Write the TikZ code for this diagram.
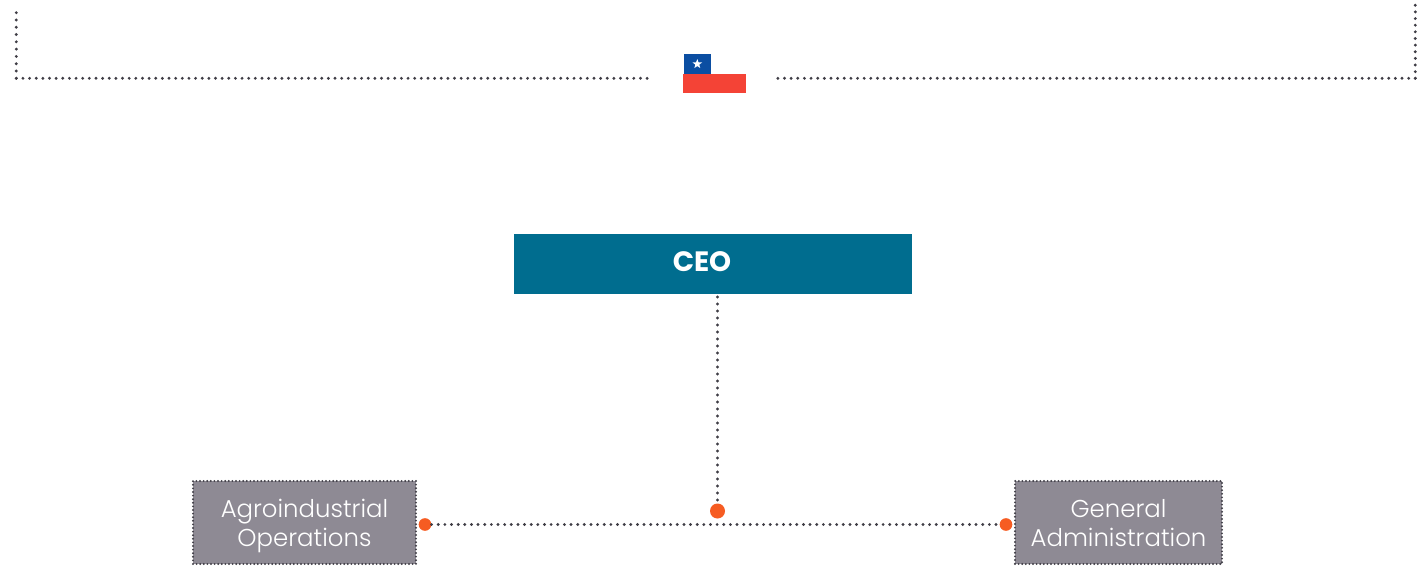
\documentclass[tikz,border=0pt]{standalone}
\usepackage{fontspec}
\setmainfont{Poppins}
\newfontfamily\unitfont{Poppins Light}
\usepackage{tikz}
\usetikzlibrary{shapes.geometric}
\definecolor{ceoblue}{HTML}{006D8F}
\definecolor{unitgrey}{HTML}{8E8A94}
\definecolor{dotorange}{HTML}{F65C22}
\definecolor{dotgrey}{HTML}{3F3D45}
\definecolor{flagblue}{HTML}{0B4EA2}
\definecolor{flagred}{HTML}{F44336}
\newcommand{\topstrut}{\rule{0pt}{20.4pt}}
\tikzset{
  dotline/.style={dotgrey, line width=2.4pt, line cap=round, dash pattern=on 0pt off 4.98pt},
  unitbox/.style={draw=dotgrey, fill=unitgrey, line width=1.6pt, line cap=round, dash pattern=on 0pt off 2.7pt,
    text=white, font=\fontsize{18.3}{21.75}\selectfont\unitfont, align=center, inner sep=0pt, minimum height=62.25pt},
  enddot/.style={circle, fill=dotorange, inner sep=0pt, minimum size=9.5pt},
  flagpart/.style={inner sep=0pt, outer sep=0pt}
}
\begin{document}
\begin{tikzpicture}[x=0.75pt,y=0.75pt]
    \useasboundingbox (0,0) rectangle (1422,-572);
    % frame at the top
    \coordinate (lefttop) at (16.3,-12);
    \coordinate (leftcorner) at (16.3,-78.3);
    \coordinate (leftend) at (647.8,-78.3);
    \coordinate (righttop) at (1415.3,-4.2);
    \coordinate (rightcorner) at (1415.3,-78.3);
    \coordinate (rightend) at (777.5,-78.3);
    \draw [dotline, dash pattern=on 0pt off 5.47pt] (leftcorner) -- (lefttop);
    \draw [dotline] (leftcorner) -- (leftend);
    \draw [dotline] (rightcorner) -- (righttop);
    \draw [dotline] (rightcorner) -- (rightend);
    % flag
    \node [flagpart, fill=flagblue, minimum width=20.25pt, minimum height=15pt] (flagcanton) at (697.5,-64) {};
    \node [flagpart, fill=flagred, minimum width=47.25pt, minimum height=14.25pt] (flagred) at (714.5,-83.5) {};
    \node [star, star points=5, star point ratio=2.4, fill=white, inner sep=0pt, minimum size=7.5pt] (flagstar) at (697.3,-64) {};
    % boxes
    \node [fill=ceoblue, inner sep=0pt, minimum width=298.5pt, minimum height=45pt] (ceo) at (713,-264) {};
    \node [text=white, inner sep=0pt, font=\fontsize{21}{25}\selectfont\bfseries] (ceolabel) at (702,-262) {CEO};
    \node [unitbox, minimum width=167.25pt] (agro) at (304.5,-522.5) {\topstrut Agroindustrial\\\strut Operations};
    \node [unitbox, minimum width=155.25pt] (admin) at (1118.5,-522.5) {\topstrut General\\\strut Administration};
    % connectors
    \node [enddot] (agrodot) at (425,-524.5) {};
    \node [enddot] (admindot) at (1006,-524.5) {};
    \node [enddot, minimum size=11.25pt] (ceodot) at (717.5,-511) {};
    \coordinate (ceofoot) at (717.5,-297);
    \draw [dotline] (agrodot) -- (admindot);
    \draw [dotline, dash pattern=on 0pt off 5.25pt] (ceofoot) -- (ceodot);
\end{tikzpicture}
\end{document}
